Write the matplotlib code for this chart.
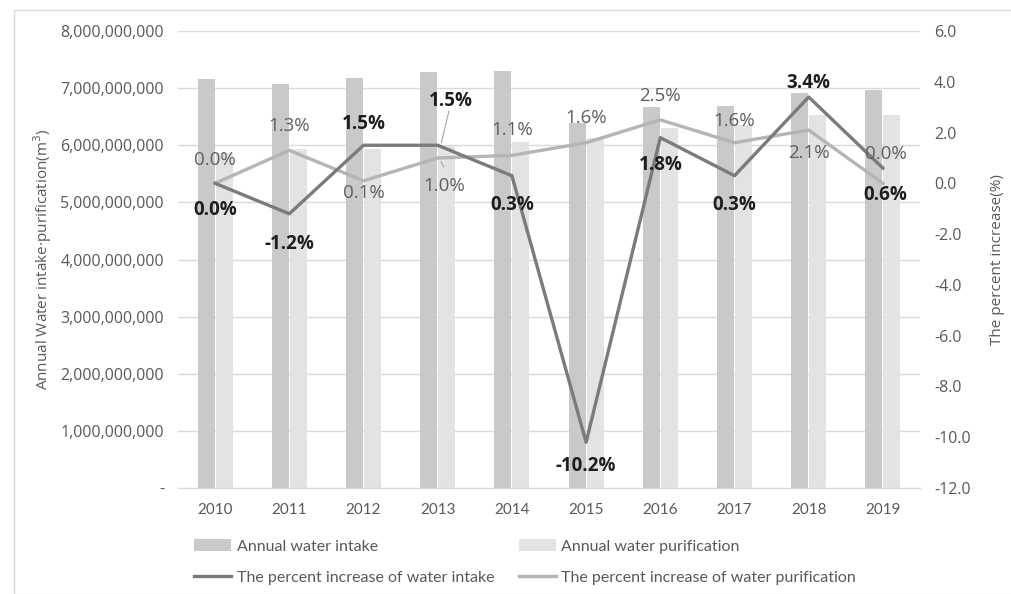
import matplotlib
matplotlib.use("Agg")
import matplotlib.pyplot as plt
from matplotlib.patches import Rectangle
from matplotlib.ticker import FuncFormatter, MultipleLocator
import numpy as np

years = ["2010", "2011", "2012", "2013", "2014", "2015", "2016", "2017", "2018", "2019"]
water_intake = [7.16e9, 7.07e9, 7.18e9, 7.28e9, 7.30e9, 6.39e9, 6.67e9, 6.69e9, 6.92e9, 6.97e9]
water_purification = [5.86e9, 5.94e9, 5.94e9, 5.98e9, 6.05e9, 6.12e9, 6.30e9, 6.36e9, 6.53e9, 6.53e9]
pct_intake = [0.0, -1.2, 1.5, 1.5, 0.3, -10.2, 1.8, 0.3, 3.4, 0.6]
pct_purification = [0.0, 1.3, 0.1, 1.0, 1.1, 1.6, 2.5, 1.6, 2.1, 0.0]

# label offsets in pixels (dx, dy) -- styling only
off_intake = [(0, -27), (0, -30), (0, 21), (13, 44), (0, -29), (0, -24), (0, -27), (0, -29), (0, 14), (2, -27)]
off_purif = [(0, 23), (0, 24), (0, -12), (6, -28), (0, 25), (0, 25), (0, 24), (0, 22), (0, -23), (3, 29)]

C_BAR1 = "#c9c9c9"
C_BAR2 = "#e3e3e3"
C_LINE1 = "#7b7b7b"
C_LINE2 = "#b5b5b5"
C_TXT = "#595959"
C_GRID = "#d9d9d9"

FONT = ["Open Sans", "DejaVu Sans"]
NARROW = ["Lato", "DejaVu Sans"]
plt.rcParams["font.family"] = FONT

W, H = 1012, 594
fig = plt.figure(figsize=(W / 100, H / 100), dpi=100)
ax = fig.add_axes([178 / W, 1 - 488 / H, (920 - 178) / W, (488 - 31) / H])
ax2 = ax.twinx()

x = np.arange(len(years))
bw = 0.23
ax.bar(x - 0.122, water_intake, bw, color=C_BAR1, label="Annual water intake", zorder=2)
ax.bar(x + 0.122, water_purification, bw, color=C_BAR2, label="Annual water purification", zorder=2)

ax.set_xlim(-0.5, len(years) - 0.5)
ax.set_ylim(0, 8e9)
ax.yaxis.set_major_locator(MultipleLocator(1e9))
ax.yaxis.set_major_formatter(FuncFormatter(lambda v, p: "-" if v == 0 else f"{int(round(v)):,}"))
ax.grid(axis="y", color=C_GRID, linewidth=1, zorder=0)
ax.set_axisbelow(True)
ax.set_xticks(x)
ax.set_xticklabels(years, family=NARROW, fontsize=11, color=C_TXT)
for lab in ax.get_yticklabels():
    lab.set_fontsize(11.5)
    lab.set_color(C_TXT)
ax.tick_params(axis="y", length=0, pad=10)
ax.tick_params(axis="x", length=0, pad=11)
for s in ["top", "right", "left"]:
    ax.spines[s].set_visible(False)
ax.spines["bottom"].set_color(C_GRID)

l1, = ax2.plot(x, pct_intake, color=C_LINE1, linewidth=2.4, zorder=4, label="The percent increase of water intake")
l2, = ax2.plot(x, pct_purification, color=C_LINE2, linewidth=2.4, zorder=3, label="The percent increase of water purification")
ax2.set_ylim(-12, 6)
ax2.yaxis.set_major_locator(MultipleLocator(2))
ax2.yaxis.set_major_formatter(FuncFormatter(lambda v, p: f"{v:.1f}"))
for lab in ax2.get_yticklabels():
    lab.set_fontsize(11.5)
    lab.set_color(C_TXT)
ax2.tick_params(axis="y", length=0, pad=10)
for s in ax2.spines.values():
    s.set_visible(False)

for i, v in enumerate(pct_purification):
    dx, dy = off_purif[i]
    ax2.annotate(f"{v:.1f}%", (x[i], v), xytext=(dx, dy), textcoords="offset pixels",
                 ha="center", va="center", fontsize=13.5, color="#5f5f5f", zorder=6)
for i, v in enumerate(pct_intake):
    dx, dy = off_intake[i]
    ax2.annotate(f"{v:.1f}%", (x[i], v), xytext=(dx, dy), textcoords="offset pixels",
                 ha="center", va="center", fontsize=13.5, color="#1e1e1e", fontweight="bold", zorder=6)

# leader lines for 2013 labels
ax2.annotate("", (x[3] + 0.04, pct_intake[3]), xytext=(x[3] + 0.16, pct_intake[3] + 1.45),
             arrowprops=dict(arrowstyle="-", color="#a6a6a6", lw=0.8))
ax2.annotate("", (x[3] + 0.03, pct_purification[3] - 0.05), xytext=(x[3] + 0.1, pct_purification[3] - 0.45),
             arrowprops=dict(arrowstyle="-", color="#a6a6a6", lw=0.8))

ax.set_ylabel("Annual Water intake·purification(m$^3$)", fontsize=11, color=C_TXT, labelpad=5)
ax2.set_ylabel("The percent increase(%)", fontsize=11, color=C_TXT, labelpad=14)

h1, lb1 = ax.get_legend_handles_labels()
handles = [h1[0], l1, h1[1], l2]
labels = [lb1[0], l1.get_label(), lb1[1], l2.get_label()]
fig.legend(handles, labels, ncol=2, loc="center left", bbox_to_anchor=(180 / W, 1 - 562 / H),
           frameon=False, prop={"family": NARROW, "size": 11.5}, labelcolor=C_TXT,
           handlelength=2.3, handletextpad=0.35, columnspacing=1.55, labelspacing=1.05)

fig.patches.append(Rectangle((14 / W, 0), 1 - 14 / W, 1 - 10 / H, transform=fig.transFigure,
                             fill=False, edgecolor=C_GRID, linewidth=1))

fig.savefig("out.png", dpi=100, facecolor="white")
